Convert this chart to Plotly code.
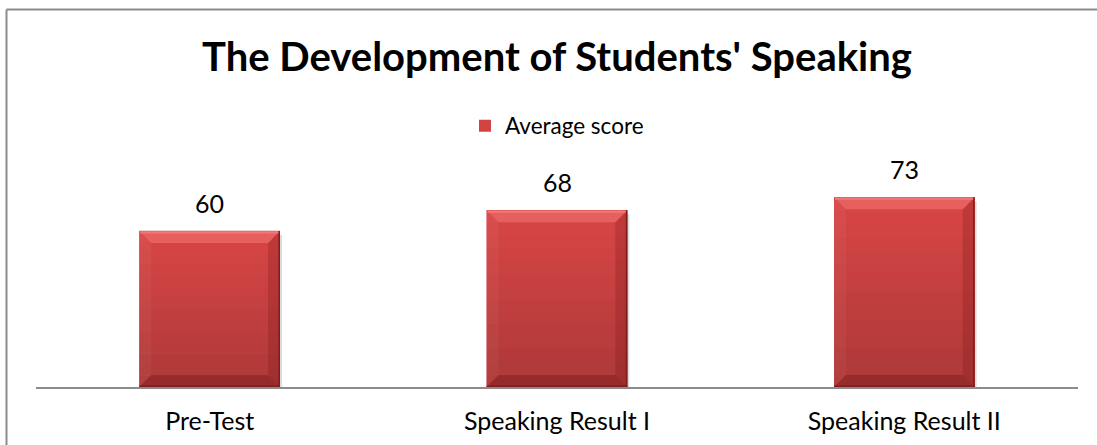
import plotly.graph_objects as go

# ---- data ----
categories = ["Pre-Test", "Speaking Result I", "Speaking Result II"]
average_score = [60, 68, 73]
series_name = "Average score"
title_text = "The Development of Students' Speaking"

# ---- layout constants (pixels) ----
W, H = 1097, 445
ML, MR, MT, MB = 36, 19, 179, 58
YMAX = 80
BAR_W = 0.405
FONT = "Lato"

plot_w = W - ML - MR
plot_h = H - MT - MB
px_x = plot_w / len(categories)   # pixels per category unit
px_y = plot_h / YMAX              # pixels per value unit


def mix(c1, c2, t):
    return "rgb(%d,%d,%d)" % tuple(round(a + (b - a) * t) for a, b in zip(c1, c2))


fig = go.Figure()
fig.add_trace(go.Bar(
    x=categories, y=average_score, name=series_name, width=BAR_W,
    marker=dict(color="#D24343", line=dict(width=0)),
    hoverinfo="x+y",
))

shapes = []
bev_x = 12 / px_x
bev_y = 12 / px_y
TOP_C = (218, 70, 70)
BOT_C = (172, 56, 56)
for i, v in enumerate(average_score):
    x0, x1 = i - BAR_W / 2, i + BAR_W / 2
    # soft shadow
    sx, sy = 2 / px_x, 4 / px_y
    shapes.append(dict(type="rect", xref="x", yref="y", layer="below",
                       x0=x0 + sx, x1=x1 + sx, y0=-sy, y1=v - sy,
                       fillcolor="rgba(0,0,0,0.14)", line=dict(width=0)))
    # vertical gradient body
    n = 14
    for k in range(n):
        ya = v * k / n
        yb = v * (k + 1) / n
        t = 1 - (k + 0.5) / n
        shapes.append(dict(type="rect", xref="x", yref="y", layer="above",
                           x0=x0, x1=x1, y0=ya, y1=yb + 0.05,
                           fillcolor=mix(TOP_C, BOT_C, t), line=dict(width=0)))
    # right bevel face
    shapes.append(dict(type="path", xref="x", yref="y", layer="above",
                       path=f"M {x1},{v} L {x1},0 L {x1-bev_x},{bev_y} L {x1-bev_x},{v-bev_y} Z",
                       fillcolor="rgba(120,20,20,0.25)", line=dict(width=0)))
    # left bevel face
    shapes.append(dict(type="path", xref="x", yref="y", layer="above",
                       path=f"M {x0},{v} L {x0},0 L {x0+bev_x},{bev_y} L {x0+bev_x},{v-bev_y} Z",
                       fillcolor="rgba(255,255,255,0.04)", line=dict(width=0)))
    # bottom bevel face
    shapes.append(dict(type="path", xref="x", yref="y", layer="above",
                       path=f"M {x0},0 L {x1},0 L {x1-bev_x},{bev_y} L {x0+bev_x},{bev_y} Z",
                       fillcolor="rgba(110,20,20,0.35)", line=dict(width=0)))
    # top bevel face
    shapes.append(dict(type="path", xref="x", yref="y", layer="above",
                       path=f"M {x0},{v} L {x1},{v} L {x1-bev_x},{v-bev_y} L {x0+bev_x},{v-bev_y} Z",
                       fillcolor="rgb(230,96,96)", line=dict(width=0)))
    # top highlight
    shapes.append(dict(type="line", xref="x", yref="y", layer="above",
                       x0=x0 + 1 / px_x, x1=x1 - 1 / px_x, y0=v - 1.5 / px_y, y1=v - 1.5 / px_y,
                       line=dict(color="rgb(242,120,120)", width=2)))
    # right dark edge
    shapes.append(dict(type="line", xref="x", yref="y", layer="above",
                       x0=x1 - 0.8 / px_x, x1=x1 - 0.8 / px_x, y0=0, y1=v,
                       line=dict(color="rgb(130,28,28)", width=1.5)))
    # bottom dark edge
    shapes.append(dict(type="line", xref="x", yref="y", layer="above",
                       x0=x0, x1=x1, y0=0.8 / px_y, y1=0.8 / px_y,
                       line=dict(color="rgb(125,30,30)", width=1.5)))


def px_to_paper_x(px):
    return (px - ML) / plot_w


def px_to_paper_y(py):
    return (H - MB - py) / plot_h


# chart frame (left and top edges visible)
shapes.append(dict(type="line", xref="paper", yref="paper", layer="above",
                   x0=px_to_paper_x(6.5), x1=px_to_paper_x(6.5),
                   y0=px_to_paper_y(H + 5), y1=px_to_paper_y(9.5),
                   line=dict(color="#8C8C8C", width=2)))
shapes.append(dict(type="line", xref="paper", yref="paper", layer="above",
                   x0=px_to_paper_x(6.5), x1=px_to_paper_x(W + 5),
                   y0=px_to_paper_y(9.5), y1=px_to_paper_y(9.5),
                   line=dict(color="#8C8C8C", width=2)))

annotations = [
    dict(x=c, y=v, xref="x", yref="y", text=str(v), showarrow=False,
         yshift=28, yanchor="middle", xanchor="center",
         font=dict(family=FONT, size=25, color="#000000"))
    for c, v in zip(categories, average_score)
]

fig.update_layout(
    width=W, height=H,
    margin=dict(l=ML, r=MR, t=MT, b=MB, pad=0, autoexpand=False),
    paper_bgcolor="white", plot_bgcolor="white",
    title=dict(text=title_text, x=0.5, xref="paper", xanchor="center",
               y=1 - 57 / H, yref="container", yanchor="middle",
               font=dict(family=FONT, size=40, color="#000000", weight="bold")),
    showlegend=True,
    legend=dict(orientation="h", x=0.5, xanchor="center",
                y=px_to_paper_y(126), yanchor="middle",
                font=dict(family=FONT, size=22.5, color="#000000"),
                bgcolor="rgba(0,0,0,0)"),
    xaxis=dict(showline=True, linecolor="#8C8C8C", linewidth=2, ticks="",
               showgrid=False, zeroline=False, fixedrange=True, automargin=False,
               tickfont=dict(family=FONT, size=25, color="#000000"),
               ticklabelstandoff=11),
    yaxis=dict(visible=False, range=[0, YMAX], showgrid=False, zeroline=False,
               automargin=False, fixedrange=True),
    bargap=1 - BAR_W,
    shapes=shapes,
    annotations=annotations,
)

fig.write_html(
    "out.html",
    config={"displayModeBar": False},
    post_script="document.body.style.margin='0';document.body.style.padding='0';",
)
